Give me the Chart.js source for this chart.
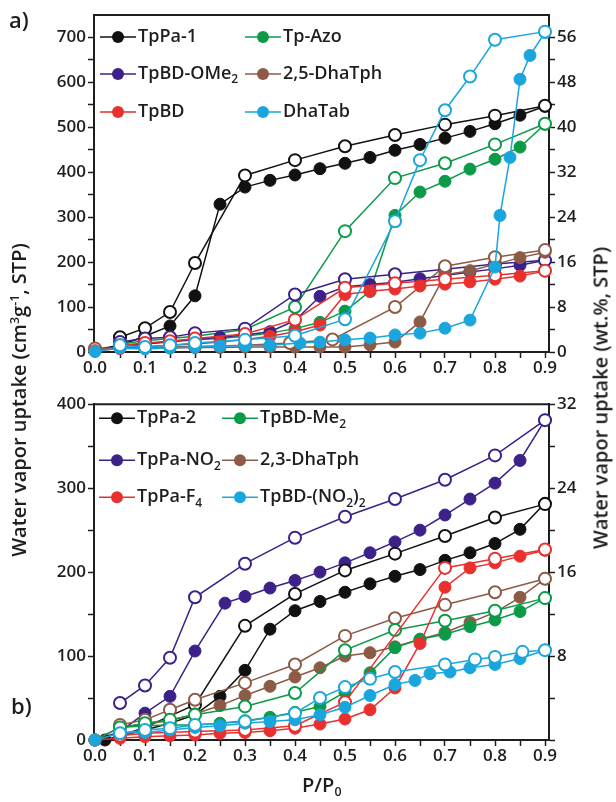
<!DOCTYPE html>
<html>
<head>
<meta charset="utf-8">
<script src="https://cdn.jsdelivr.net/npm/chart.js@4.4.1/dist/chart.umd.min.js"></script>
<style>
  html, body { margin: 0; padding: 0; background: #fff; }
  #wrap { position: relative; width: 616px; height: 802px; overflow: hidden;
          font-family: "Open Sans", sans-serif; font-weight: 600; color: #1e1e1e; }
  canvas { position: absolute; left: 0; }
  #c1 { top: 0; }
  #c2 { top: 392px; }
  .ttl { position: absolute; white-space: nowrap; font-size: 20px;
         transform: translate(-50%, -50%) rotate(-90deg); }
  .lab { position: absolute; font-size: 22px; }
  sup { font-size: 0.62em; vertical-align: 0.55em; line-height: 0; }
  sub { font-size: 0.62em; vertical-align: -0.35em; line-height: 0; }
</style>
</head>
<body>
<div id="wrap">
  <canvas id="c1" width="616" height="392"></canvas>
  <canvas id="c2" width="616" height="410"></canvas>
  <div class="lab" style="left:9px;top:4px">a)</div>
  <div class="lab" style="left:11px;top:690px">b)</div>
  <div class="ttl" style="left:18px;top:400px">Water vapor uptake (cm<sup>3</sup>g<sup>-1</sup>, STP)</div>
  <div class="ttl" style="left:600px;top:398px">Water vapor uptake (wt.%, STP)</div>
  <div class="lab" style="left:302px;top:771px;font-size:20px">P/P<sub>0</sub></div>
</div>
<script>
// ---- tick values ----
const xTicks = [0, 0.05, 0.1, 0.15, 0.2, 0.25, 0.3, 0.35, 0.4, 0.45, 0.5, 0.55, 0.6, 0.65, 0.7, 0.75, 0.8, 0.85, 0.9];
const leftTicksA = [0, 50, 100, 150, 200, 250, 300, 350, 400, 450, 500, 550, 600, 650, 700];
const rightTicksA = [0, 4, 8, 12, 16, 20, 24, 28, 32, 36, 40, 44, 48, 52, 56];
const leftTicksB = [0, 50, 100, 150, 200, 250, 300, 350, 400];
const rightTicksB = [0, 4, 8, 12, 16, 20, 24, 28, 32];

// ---- common x grids (P/P0) ----
const xAds = [0, 0.05, 0.1, 0.15, 0.2, 0.25, 0.3, 0.35, 0.4, 0.45, 0.5, 0.55, 0.6, 0.65, 0.7, 0.75, 0.8, 0.85, 0.9];
const xDes = [0.05, 0.1, 0.15, 0.2, 0.3, 0.4, 0.5, 0.6, 0.7, 0.8, 0.9];

// ---- panel a) ----
const namesA = ["TpPa-1", "Tp-Azo", "TpBD-OMe_2", "2,5-DhaTph", "TpBD", "DhaTab"];
const colorsA = ["#111111", "#0b9a48", "#3b2188", "#8c5a45", "#e8312f", "#1aa6dd"];

const tpPa1Ads = [5, 15, 35, 58, 125, 329, 367, 382, 394, 408, 420, 433, 449, 462, 476, 491, 508, 527, 547];
const tpPa1Des = [33, 53, 89, 198, 393, 427, 458, 483, 506, 526, 548];
const xTpPa1Des = [0.05, 0.1, 0.15, 0.2, 0.3, 0.4, 0.5, 0.6, 0.7, 0.8, 0.9];

const tpAzoAds = [3, 12, 18, 22, 27, 30, 35, 42, 52, 66, 91, 135, 304, 356, 380, 407, 429, 456, 507];
const tpAzoDes = [18, 25, 30, 35, 50, 100, 269, 387, 420, 462, 508];

const tpBDOMe2Ads = [3, 12, 18, 24, 28, 33, 38, 45, 70, 124, 145, 150, 155, 163, 170, 178, 185, 193, 204];
const tpBDOMe2Des = [22, 30, 33, 42, 52, 128, 162, 173, 184, 196, 204];

const dha25Ads = [8, 8, 8, 9, 10, 10, 11, 11, 11, 11, 11, 16, 22, 67, 172, 181, 195, 210, 222];
const xDha25Des = [0, 0.1, 0.2, 0.3, 0.39, 0.475, 0.6, 0.7, 0.8, 0.9];
const dha25Des = [8, 10, 12, 15, 20, 28, 100, 191, 211, 227];

const tpBDAds = [3, 8, 12, 15, 18, 22, 28, 35, 45, 60, 128, 135, 140, 147, 151, 156, 162, 169, 180];
const tpBDDes = [15, 20, 24, 30, 40, 72, 143, 153, 162, 171, 181];

const xDhaTabAds = [0, 0.05, 0.1, 0.15, 0.2, 0.25, 0.3, 0.35, 0.41, 0.45, 0.5, 0.55, 0.6, 0.65, 0.7, 0.75, 0.8, 0.81, 0.83, 0.85, 0.87, 0.9];
const dhaTabAds = [1, 9, 7, 9, 11, 13, 14, 15, 20, 22, 27, 31, 38, 42, 53, 71, 189, 304, 433, 607, 660, 711];
const xDhaTabDes = [0.05, 0.1, 0.15, 0.2, 0.3, 0.4, 0.5, 0.6, 0.65, 0.7, 0.75, 0.8, 0.9];
const dhaTabDes = [15, 11, 15, 20, 27, 36, 73, 291, 427, 538, 613, 695, 713];

// ---- panel b) ----
const namesB = ["TpPa-2", "TpBD-Me_2", "TpPa-NO_2", "2,3-DhaTph", "TpPa-F_4", "TpBD-(NO_2)_2"];
const colorsB = ["#111111", "#0b9a48", "#3b2188", "#8c5a45", "#e8312f", "#1aa6dd"];

const xTpPa2Ads = [0.02, 0.05, 0.1, 0.15, 0.2, 0.25, 0.3, 0.35, 0.4, 0.45, 0.5, 0.55, 0.6, 0.65, 0.7, 0.75, 0.8, 0.85, 0.9];
const tpPa2Ads = [0, 5, 12, 20, 30, 52, 83, 132, 154, 165, 176, 186, 195, 203, 214, 223, 234, 251, 282];
const xTpPa2Des = [0.05, 0.1, 0.2, 0.3, 0.4, 0.5, 0.6, 0.7, 0.8, 0.9];
const tpPa2Des = [5, 15, 42, 136, 174, 202, 222, 243, 265, 281];

const tpBDMe2Ads = [0, 15, 17, 18, 18, 20, 23, 27, 33, 40, 57, 80, 110, 120, 126, 135, 143, 153, 169];
const tpBDMe2Des = [15, 20, 24, 30, 40, 56, 107, 131, 142, 154, 169];

const xNO2Ads = [0, 0.05, 0.1, 0.15, 0.2, 0.26, 0.3, 0.35, 0.4, 0.45, 0.5, 0.55, 0.6, 0.65, 0.7, 0.75, 0.8, 0.85, 0.9];
const tpPaNO2Ads = [0, 10, 32, 52, 106, 163, 171, 181, 190, 200, 211, 223, 236, 250, 268, 287, 306, 333, 381];
const tpPaNO2Des = [44, 65, 98, 170, 210, 241, 266, 287, 310, 339, 381];

const dha23Ads = [0, 15, 19, 23, 31, 41, 53, 64, 75, 86, 100, 104, 111, 120, 128, 140, 152, 170, 192];
const dha23Des = [18, 24, 36, 48, 68, 90, 124, 145, 161, 176, 192];

const tpPaF4Ads = [0, 2, 4, 5, 6, 8, 9, 11, 14, 19, 25, 36, 62, 115, 182, 205, 211, 219, 226];
const xF4Des = [0.05, 0.1, 0.2, 0.3, 0.4, 0.5, 0.7, 0.8, 0.9];
const tpPaF4Des = [5, 8, 10, 12, 17, 45, 205, 216, 227];

const xBDNO2Ads = [0, 0.05, 0.1, 0.15, 0.2, 0.25, 0.3, 0.35, 0.4, 0.45, 0.5, 0.55, 0.6, 0.64, 0.67, 0.71, 0.75, 0.8, 0.85, 0.9];
const tpBDNO22Ads = [0, 8, 9, 12, 15, 17, 20, 22, 24, 30, 39, 53, 66, 71, 79, 81, 86, 90, 97, 107];
const xBDNO2Des = [0.05, 0.1, 0.15, 0.2, 0.3, 0.4, 0.45, 0.5, 0.55, 0.6, 0.7, 0.76, 0.8, 0.855, 0.9];
const tpBDNO22Des = [8, 12, 14, 18, 22, 32, 50, 63, 73, 81, 90, 96, 99, 105, 107];

// ---- helpers ----
const INK = "#1e1e1e";
const tickFont = { family: "'Open Sans', sans-serif", size: 17, weight: "600" };

function series(color, xs, ys, open) {
  return {
    data: xs.map((x, i) => ({ x: x, y: ys[i] })),
    showLine: true,
    borderColor: color,
    borderWidth: 1.5,
    pointRadius: 6,
    pointHoverRadius: 6,
    pointBorderWidth: open ? 2 : 1,
    pointBorderColor: color,
    pointBackgroundColor: open ? "#ffffff" : color,
    clip: false
  };
}

function xScale(h) {
  return {
    type: "linear", position: "bottom", min: -0.002, max: 0.908,
    afterBuildTicks: s => { s.ticks = xTicks.map(v => ({ value: v })); },
    afterFit: s => { s.height = h; },
    ticks: { autoSkip: false, maxRotation: 0, padding: 0, color: INK, font: tickFont,
             callback: (v, i) => (i % 2 === 0 ? v.toFixed(1) : "") },
    grid: { drawOnChartArea: false, tickLength: 6, tickWidth: 1.5, tickColor: INK },
    border: { color: INK, width: 2 }
  };
}

function yScale(pos, max, vals, showLabel) {
  return {
    type: "linear", position: pos, min: 0, max: max,
    afterBuildTicks: s => { s.ticks = vals.map(v => ({ value: v })); },
    afterFit: s => { s.width = pos === "left" ? 94 : 67; },
    ticks: { autoSkip: false, padding: 2, color: INK, font: tickFont,
             callback: v => (showLabel(v) ? v : "") },
    grid: { drawOnChartArea: false, tickLength: 6, tickWidth: 1.5, tickColor: INK },
    border: { color: INK, width: 2 }
  };
}

function drawRich(ctx, x, y, s) {
  ctx.textBaseline = "middle";
  ctx.textAlign = "left";
  ctx.fillStyle = INK;
  s.split(/_(\d)/).forEach((p, i) => {
    if (!p) return;
    const sub = i % 2 === 1;
    ctx.font = sub ? "600 12px 'Open Sans'" : "600 18px 'Open Sans'";
    ctx.fillText(p, x, sub ? y + 6 : y);
    x += ctx.measureText(p).width;
  });
}

// frame on top edge + legend inside the plot
const panelPlugin = {
  id: "panel",
  beforeDatasetsDraw(chart) {
    const { ctx, chartArea: a } = chart;
    ctx.save();
    ctx.strokeStyle = INK;
    ctx.lineWidth = 2;
    ctx.beginPath();
    ctx.moveTo(a.left - 1, a.top);
    ctx.lineTo(a.right + 1, a.top);
    ctx.stroke();
    ctx.restore();
  },
  afterDatasetsDraw(chart, args, opts) {
    const { ctx, chartArea: a } = chart;
    opts.names.forEach((name, i) => {
      const cx = a.left + opts.cols[i % 2];
      const cy = a.top + opts.rows[Math.floor(i / 2)];
      const c = opts.colors[i];
      ctx.save();
      ctx.strokeStyle = c;
      ctx.lineWidth = 1.5;
      ctx.beginPath();
      ctx.moveTo(cx - 18, cy);
      ctx.lineTo(cx + 18, cy);
      ctx.stroke();
      ctx.fillStyle = c;
      ctx.beginPath();
      ctx.arc(cx, cy, 6, 0, Math.PI * 2);
      ctx.fill();
      drawRich(ctx, cx + 20, cy, name);
      ctx.restore();
    });
  }
};

// ---- panel a ----
const setsA = [
  series(colorsA[5], xDhaTabDes, dhaTabDes, true),
  series(colorsA[5], xDhaTabAds, dhaTabAds, false),
  series(colorsA[4], xDes, tpBDDes, true),
  series(colorsA[4], xAds, tpBDAds, false),
  series(colorsA[3], xDha25Des, dha25Des, true),
  series(colorsA[3], xAds, dha25Ads, false),
  series(colorsA[2], xDes, tpBDOMe2Des, true),
  series(colorsA[2], xAds, tpBDOMe2Ads, false),
  series(colorsA[1], xDes, tpAzoDes, true),
  series(colorsA[1], xAds, tpAzoAds, false),
  series(colorsA[0], xTpPa1Des, tpPa1Des, true),
  series(colorsA[0], xAds, tpPa1Ads, false)
];

new Chart(document.getElementById("c1"), {
  type: "scatter",
  data: { datasets: setsA },
  options: {
    responsive: false,
    animation: false,
    events: [],
    layout: { padding: { top: 15, left: 0, right: 0, bottom: 0 } },
    plugins: {
      legend: { display: false },
      tooltip: { enabled: false },
      panel: { names: namesA, colors: colorsA, cols: [24, 169], rows: [22, 59, 97] }
    },
    scales: {
      x: xScale(40),
      y: yScale("left", 750, leftTicksA, v => v % 100 === 0),
      y2: yScale("right", 60, rightTicksA, v => v % 8 === 0)
    }
  },
  plugins: [panelPlugin]
});

// ---- panel b ----
const setsB = [
  series(colorsB[5], xBDNO2Des, tpBDNO22Des, true),
  series(colorsB[5], xBDNO2Ads, tpBDNO22Ads, false),
  series(colorsB[4], xF4Des, tpPaF4Des, true),
  series(colorsB[4], xAds, tpPaF4Ads, false),
  series(colorsB[1], xDes, tpBDMe2Des, true),
  series(colorsB[1], xAds, tpBDMe2Ads, false),
  series(colorsB[3], xDes, dha23Des, true),
  series(colorsB[3], xAds, dha23Ads, false),
  series(colorsB[0], xTpPa2Des, tpPa2Des, true),
  series(colorsB[0], xTpPa2Ads, tpPa2Ads, false),
  series(colorsB[2], xDes, tpPaNO2Des, true),
  series(colorsB[2], xNO2Ads, tpPaNO2Ads, false)
];

new Chart(document.getElementById("c2"), {
  type: "scatter",
  data: { datasets: setsB },
  options: {
    responsive: false,
    animation: false,
    events: [],
    layout: { padding: { top: 12, left: 0, right: 0, bottom: 0 } },
    plugins: {
      legend: { display: false },
      tooltip: { enabled: false },
      panel: { names: namesB, colors: colorsB, cols: [23, 146], rows: [14, 56, 93] }
    },
    scales: {
      x: xScale(62),
      y: yScale("left", 400, leftTicksB, v => v % 100 === 0),
      y2: yScale("right", 32, rightTicksB, v => v > 0 && v % 8 === 0)
    }
  },
  plugins: [panelPlugin]
});
</script>
</body>
</html>
